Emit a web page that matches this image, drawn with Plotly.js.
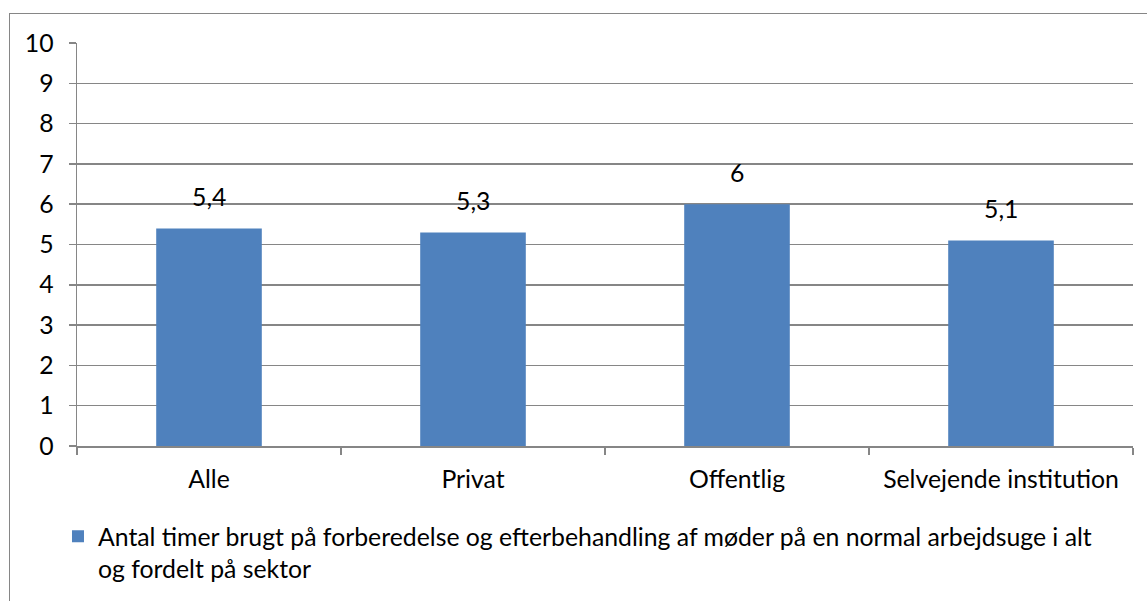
<!DOCTYPE html>
<html>
<head>
<meta charset="utf-8">
<script src="https://cdn.plot.ly/plotly-3.0.1.min.js"></script>
<style>
  html, body { margin: 0; padding: 0; background: #fff; }
  #frame { position: absolute; left: 9px; top: 13px; width: 1300px; height: 800px; border: 1.5px solid #868686; box-sizing: border-box; }
  #chart { position: absolute; left: 0; top: 0; width: 1147px; height: 601px; }
</style>
</head>
<body>
<div id="frame"></div>
<div id="chart"></div>
<script>
const categories = ["Alle", "Privat", "Offentlig", "Selvejende institution"];
const values = [5.4, 5.3, 6, 5.1];
const seriesName = "Antal timer brugt på forberedelse og efterbehandling af møder på en normal arbejdsuge i alt<br>og fordelt på sektor";
const yTicks = [0, 1, 2, 3, 4, 5, 6, 7, 8, 9, 10];

const FONT = { family: "Lato, 'Liberation Sans', sans-serif", size: 24.8, color: "#000" };

const trace = {
  type: "bar",
  x: categories,
  y: values,
  name: seriesName,
  marker: { color: "#4F81BD", line: { width: 0 } },
  hoverinfo: "x+y",
  showlegend: true
};

const annotations = categories.map((c, i) => ({
  x: c, y: values[i], xref: "x", yref: "y",
  text: String(values[i]).replace(".", ","),
  showarrow: false, yanchor: "bottom", yshift: 15,
  font: FONT
}));

const layout = {
  width: 1147, height: 601,
  margin: { l: 77, r: 14, t: 43, b: 155, autoexpand: false },
  paper_bgcolor: "rgba(0,0,0,0)",
  plot_bgcolor: "rgba(0,0,0,0)",
  font: FONT,
  separators: ", ",
  bargap: 0.6,
  showlegend: true,
  xaxis: {
    type: "category",
    showline: true, linecolor: "#868686", linewidth: 1.5,
    ticks: "outside", tickson: "boundaries", ticklen: 7, tickcolor: "#868686", tickwidth: 1.5,
    showgrid: false, tickfont: FONT, ticklabelstandoff: 11,
    fixedrange: true
  },
  yaxis: {
    range: [0, 10], tickvals: yTicks, ticktext: yTicks.map(String),
    showline: true, linecolor: "#868686", linewidth: 1.5,
    ticks: "outside", ticklen: 7, tickcolor: "#868686", tickwidth: 1.5,
    showgrid: true, gridcolor: "#868686", gridwidth: 1.5,
    zeroline: false, tickfont: FONT, ticklabelstandoff: 10,
    fixedrange: true
  },
  legend: {
    orientation: "h", x: -0.018, xanchor: "left", y: -0.168, yanchor: "top",
    font: FONT, bgcolor: "rgba(0,0,0,0)", itemwidth: 30, valign: "top"
  },
  annotations: annotations
};

Plotly.newPlot("chart", [trace], layout, { displayModeBar: false, staticPlot: true });
</script>
</body>
</html>
